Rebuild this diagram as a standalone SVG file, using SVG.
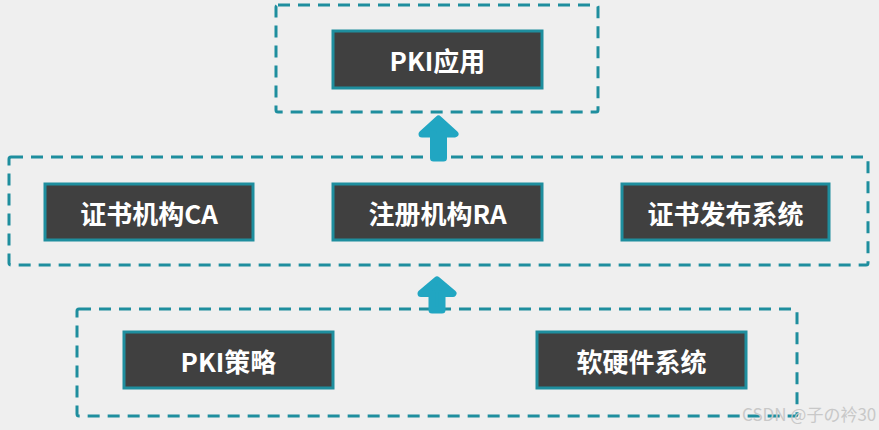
<svg xmlns="http://www.w3.org/2000/svg" width="879" height="430" viewBox="0 0 879 430">
<style>
.grp{fill:none;stroke:#1E8E9E;stroke-width:3;stroke-dasharray:12 8;}
.box{fill:#404040;stroke:#1E8E9E;stroke-width:3;}
.lbl{fill:#FFFFFF;font-family:"Noto Sans CJK SC","Noto Sans",sans-serif;font-weight:bold;font-size:26px;text-anchor:middle;dominant-baseline:central;}
.arr{fill:#21A6C2;stroke:#21A6C2;stroke-width:7;stroke-linejoin:round;}
.wm{fill:#C8C8C8;font-family:"Noto Sans CJK SC","Liberation Sans",sans-serif;font-size:17px;}
</style>
<rect x="0" y="0" width="879" height="430" fill="#EFEFEF"/>
<g id="layer-app"><rect class="grp" x="276" y="5" width="322" height="107" rx="2"/></g>
<g id="layer-core"><rect class="grp" x="9" y="157" width="859" height="108" rx="2"/></g>
<g id="layer-base"><rect class="grp" x="77" y="309" width="720" height="107" rx="2"/></g>
<g id="connectors">
<path class="arr" d="M438.5 119 L455 134 L443.5 134 L443.5 158 L433.5 158 L433.5 134 L422 134 Z"/>
<path class="arr" d="M437 280 L453 293.5 L442 293.5 L442 310 L432 310 L432 293.5 L421 293.5 Z"/>
</g>
<g id="pki-app"><rect class="box" x="333" y="31" width="209" height="57"/><text class="lbl" x="437.5" y="59.5">PKI应用</text></g>
<g id="ca"><rect class="box" x="45" y="184" width="208" height="56"/><text class="lbl" x="149" y="212">证书机构CA</text></g>
<g id="ra"><rect class="box" x="333" y="184" width="209" height="56"/><text class="lbl" x="437.5" y="212">注册机构RA</text></g>
<g id="publish"><rect class="box" x="622" y="184" width="207" height="56"/><text class="lbl" x="725.5" y="212">证书发布系统</text></g>
<g id="policy"><rect class="box" x="124" y="332" width="209" height="56"/><text class="lbl" x="228.5" y="360">PKI策略</text></g>
<g id="hwsw"><rect class="box" x="537" y="332" width="209" height="56"/><text class="lbl" x="641.5" y="360">软硬件系统</text></g>
<text class="wm" x="742" y="421">CSDN @子の衿30</text>
</svg>
